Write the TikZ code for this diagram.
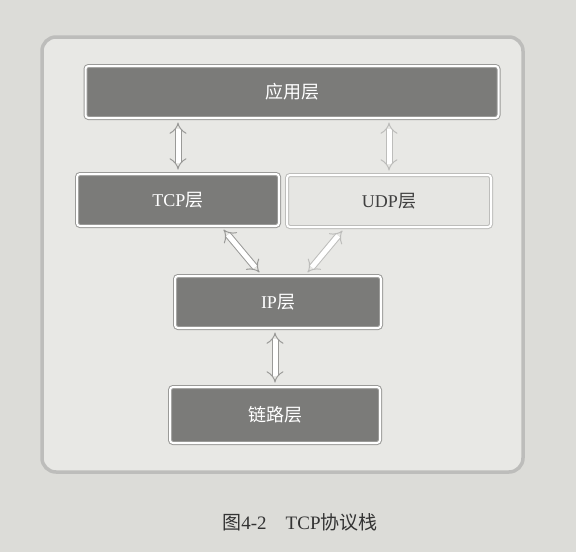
\documentclass[tikz,border=0pt]{standalone}
\usepackage{fontspec}
\setmainfont{Liberation Serif}
\newfontfamily\cjk{Noto Sans CJK SC}
\usetikzlibrary{arrows.meta}
\definecolor{pagebg}{HTML}{DCDCD8}
\definecolor{panelbg}{HTML}{E8E8E5}
\definecolor{panelln}{HTML}{BDBDBB}
\definecolor{darkbox}{HTML}{7B7B79}
\definecolor{lightbox}{HTML}{E6E6E3}
\definecolor{boxln}{HTML}{9A9A98}
\newcommand{\zh}[1]{{\cjk #1}}

\tikzset{
  layer/.style={draw=boxln, double=white, double distance=2pt, line width=1pt,
    fill=darkbox, text=white, rounded corners=3pt, minimum height=52pt,
    font=\fontsize{18}{21}\selectfont},
  lightlayer/.style={layer, fill=lightbox, text=black!75, draw=panelln},
  dblarrow/.style={draw=boxln, double=white, double distance=5pt, line width=1pt,
    {Implies[scale=1.2]}-{Implies[scale=1.2]}, shorten <=4pt, shorten >=4pt},
}

\begin{document}
\begin{tikzpicture}[x=1pt,y=-1pt]
  \useasboundingbox (0,0) rectangle (576,552);
  \fill[pagebg] (0,0) rectangle (576,552);
  \draw[panelln, fill=panelbg, line width=3.5pt, rounded corners=14pt] (42,37) rectangle (523,472);

  \node[layer, minimum width=413pt] (app) at (292,92) {\zh{应用层}};
  \node[layer, minimum width=202pt] (tcp) at (178,200) {TCP\zh{层}};
  \node[lightlayer, minimum width=204pt] (udp) at (389,201) {UDP\zh{层}};
  \node[layer, minimum width=206pt] (ip) at (278,302) {IP\zh{层}};
  \node[layer, minimum width=210pt, minimum height=56pt] (link) at (275,415) {\zh{链路层}};

  \draw[dblarrow] (tcp.north) -- (tcp.north |- app.south);
  \draw[dblarrow, draw=panelln] (udp.north) -- (udp.north |- app.south);
  \draw[dblarrow] ([xshift=43pt]tcp.south) -- ([xshift=-16pt]ip.north);
  \draw[dblarrow, draw=panelln] ([xshift=-44pt]udp.south) -- ([xshift=27pt]ip.north);
  \draw[dblarrow] (link.north) -- (link.north |- ip.south);

  \node[font=\fontsize{19}{22}\selectfont, text=black!80] (caption) at (300,522) {\zh{图}4-2\quad TCP\zh{协议栈}};
\end{tikzpicture}
\end{document}
